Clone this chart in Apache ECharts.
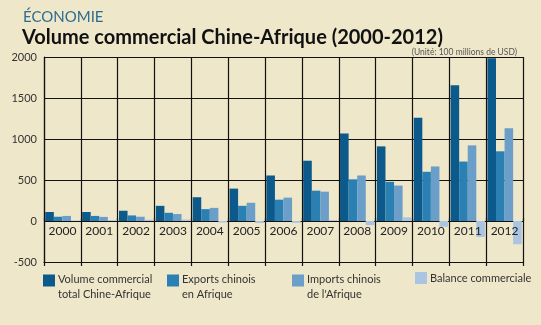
<!DOCTYPE html>
<html>
<head>
<meta charset="utf-8">
<script src="https://cdn.jsdelivr.net/npm/echarts@6/dist/echarts.min.js"></script>
<style>
  html, body { margin: 0; padding: 0; background: #efe7c9; }
  #chart { width: 541px; height: 325px; }
</style>
</head>
<body>
<div id="chart"></div>
<script>
// China–Africa trade, in units of 100 million USD
const years = ['2000','2001','2002','2003','2004','2005','2006','2007','2008','2009','2010','2011','2012'];
const volumeTotal = [110, 110, 125, 185, 290, 395, 555, 735, 1068, 910, 1260, 1655, 1985];
const exportsChina = [52, 62, 68, 100, 145, 185, 260, 370, 508, 478, 600, 725, 850];
const importsChina = [62, 50, 52, 85, 160, 222, 285, 358, 555, 432, 665, 922, 1130];
const tradeBalance = [6, 10, 16, 18, -18, -25, -22, 10, -50, 45, -70, -195, -283];

const seriesNames = [
  'Volume commercial\ntotal Chine-Afrique',
  'Exports chinois\nen Afrique',
  'Imports chinois\nde l\'Afrique',
  'Balance commerciale'
];
const seriesData = [volumeTotal, exportsChina, importsChina, tradeBalance];
const colors = ['#0b5a8b', '#2b80b3', '#6b9ec9', '#a9c5e2'];
const legendLeft = [43, 167, 292, 415];

const FONT = 'Lato, "Open Sans", sans-serif';
const chart = echarts.init(document.getElementById('chart'), null, { renderer: 'canvas' });

// legend entries: swatch level with the first text line
function legendEntry(name, i) {
  const lines = name.split('\n');
  const twoLines = lines.length > 1;
  return {
    data: [name],
    left: legendLeft[i],
    top: twoLines ? 265 : 272,
    padding: 0,
    itemWidth: 12,
    itemHeight: 12,
    itemGap: 0,
    icon: 'rect',
    selectedMode: false,
    formatter: () => twoLines
      ? '{g| }\n' + lines.map(l => '{t|' + l + '}').join('\n')
      : '{t|' + lines[0] + '}',
    textStyle: {
      padding: [0, 0, 0, -2],
      rich: {
        g: { fontSize: 1, lineHeight: 13 },
        t: { fontFamily: FONT, fontSize: 11, color: '#333', lineHeight: 15 }
      }
    }
  };
}

const option = {
  backgroundColor: '#efe7c9',
  animation: false,
  color: colors,
  title: [
    { text: 'ÉCONOMIE', left: 18, top: 5,
      textStyle: { fontFamily: FONT, fontSize: 15, fontWeight: 'normal', color: '#2d6c90' } },
    { text: 'Volume commercial Chine-Afrique (2000-2012)', left: 17, top: 23,
      textStyle: { fontFamily: FONT, fontSize: 20, fontWeight: 'bold', color: '#111' } },
    { text: '(Unité: 100 millions de USD)', right: 19, top: 43,
      textStyle: { fontFamily: FONT, fontSize: 8.5, fontWeight: 'normal', color: '#555' } }
  ],
  legend: seriesNames.map(legendEntry),
  grid: { left: 44, right: 18, top: 57, bottom: 63, containLabel: false },
  xAxis: [
    {
      type: 'category', data: years, position: 'bottom',
      axisLine: { show: true, onZero: false, lineStyle: { color: '#111', width: 1.2 } },
      axisTick: { show: true, length: 4, interval: 0, lineStyle: { color: '#111', width: 1.2 } },
      axisLabel: { fontFamily: FONT, fontSize: 12, color: '#222', inside: true, margin: 25 },
      splitLine: { show: true, interval: 0, lineStyle: { color: '#111', width: 1.2 } },
      z: 10
    },
    {
      type: 'category', data: years, position: 'top',
      axisLine: { show: false },
      axisTick: { show: true, length: 3, interval: 0, lineStyle: { color: '#111', width: 1.2 } },
      axisLabel: { show: false },
      splitLine: { show: false }
    }
  ],
  yAxis: {
    type: 'value', min: -500, max: 2000, interval: 500,
    axisLine: { show: true, lineStyle: { color: '#111', width: 1.2 } },
    axisTick: { show: false },
    axisLabel: { fontFamily: FONT, fontSize: 11, color: '#333', margin: 7,
                 formatter: v => String(v) },
    splitLine: { show: true, lineStyle: { color: '#111', width: 1.2 } }
  },
  series: seriesData.map((d, i) => ({
    name: seriesNames[i],
    type: 'bar',
    data: d,
    xAxisIndex: 0,
    barGap: '0%',
    barCategoryGap: '7%',
    itemStyle: { color: colors[i] },
    z: 2
  }))
};
chart.setOption(option);
</script>
</body>
</html>
